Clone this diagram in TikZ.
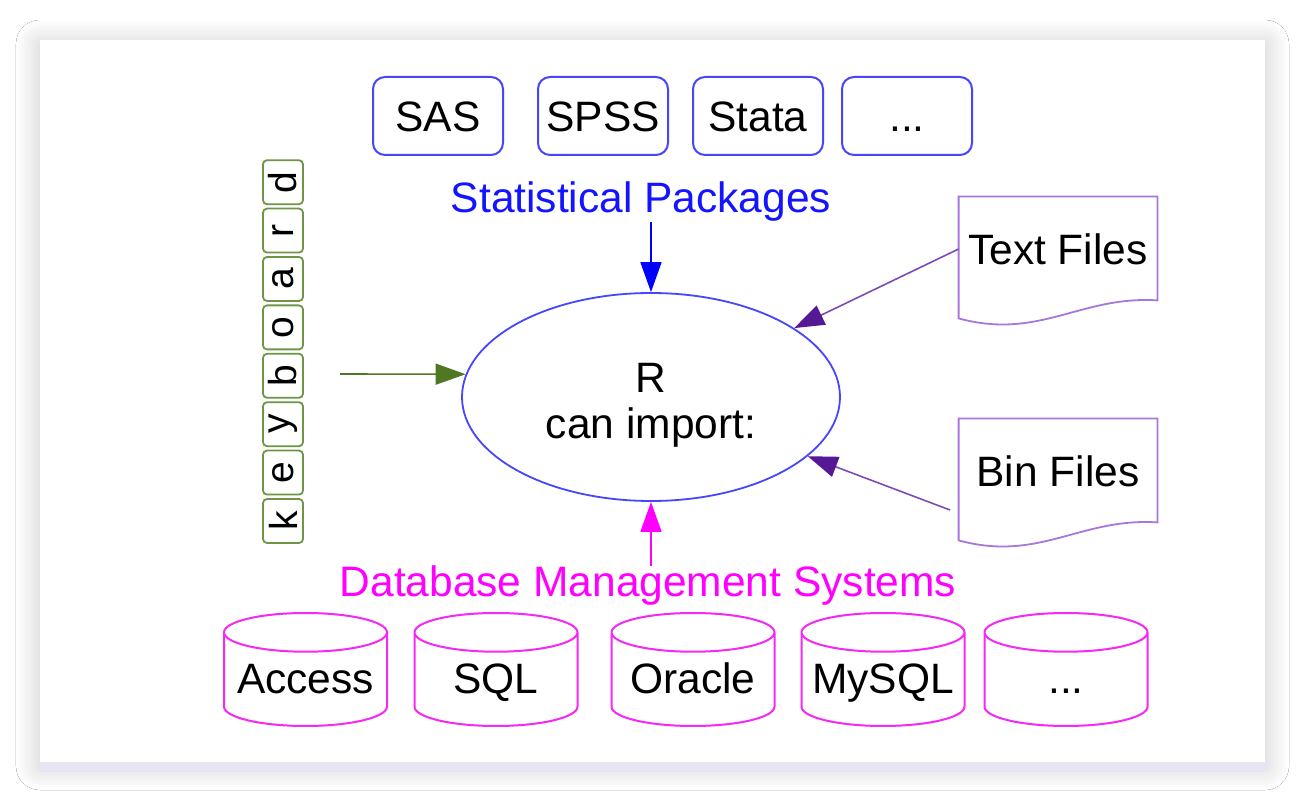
\documentclass[tikz,border=0pt]{standalone}
\usepackage{fontspec}
\setmainfont{Liberation Sans}
\usepackage{tikz}
\usetikzlibrary{arrows.meta, positioning, shapes.geometric, calc, shadows.blur}

\definecolor{pkgblue}{RGB}{70,70,250}
\definecolor{statblue}{RGB}{20,20,255}
\definecolor{dbpink}{RGB}{245,40,245}
\definecolor{dbtext}{RGB}{255,0,255}
\definecolor{filelilac}{RGB}{165,120,220}
\definecolor{fileline}{RGB}{125,75,180}
\definecolor{filehead}{RGB}{85,25,150}
\definecolor{keygreen}{RGB}{110,150,70}
\definecolor{arrowgreen}{RGB}{80,120,35}
\definecolor{cardlilac}{RGB}{232,228,242}

\newcommand{\bigtext}{\fontsize{21.25pt}{23pt}\selectfont}
\newcommand{\dbname}[1]{\makebox[40pt]{#1}}

\begin{document}
\begin{tikzpicture}[x=0.5pt, y=-0.5pt,
  font=\bigtext,
  pkgbox/.style={rectangle, rounded corners=6pt, draw=pkgblue, line width=1pt,
    minimum width=65pt, minimum height=39pt, text height=15.5pt, text depth=0pt},
  dbbox/.style={cylinder, shape border rotate=90, aspect=0.44, draw=dbpink,
    line width=1pt, fill=white, minimum width=81.5pt, minimum height=56.5pt,
    inner sep=2pt, text height=15.5pt, text depth=4.5pt, anchor=shape center},
  filebox/.style={rectangle, minimum width=99pt, minimum height=52pt},
  keybox/.style={rectangle, rounded corners=2pt, draw=keygreen, line width=0.9pt,
    minimum width=22pt, minimum height=20pt, inner sep=0pt,
    font=\fontsize{19.5pt}{20pt}\selectfont},
  feed/.style={-{Triangle[length=15pt,width=10.5pt]}, line width=0.8pt},
  filefeed/.style={feed, fileline, -{Triangle[length=15pt,width=10.5pt,color=filehead]}}
]
\useasboundingbox (0,0) rectangle (1308,812);
\fill[white] (0,0) rectangle (1308,812);
% card
\fill[white, blur shadow={shadow blur steps=10, shadow xshift=0pt, shadow yshift=-2pt,
  shadow blur radius=12pt, shadow opacity=22}] (40,40) rectangle (1265,762);
\fill[cardlilac] (40,762) rectangle (1268,772);

% statistical packages
\node[pkgbox] (sas) at (438,116) {SAS};
\node[pkgbox, right=16.5pt of sas] (spss) {SPSS};
\node[pkgbox, right=11.5pt of spss] (stata) {Stata};
\node[pkgbox, right=8.5pt of stata] (morepkg) {...};
\node[text=statblue, inner sep=0pt] (stats) at (641,202) {Statistical Packages};

% R
\node[ellipse, draw=pkgblue, line width=0.9pt, minimum width=189pt, minimum height=104pt,
  align=center, text height=45.5pt] (R) at (651,397) {R\\can import:};

% keyboard
\begin{scope}[shift={(283,521)}, rotate=90, transform shape]
  \foreach \ch [count=\i] in {k,e,y,b,o,a,r,d}
    \node[keybox] (key\i) at ({(\i-1)*48.4},0) {\ch};
\end{scope}

% files
\node[filebox] (txt) at (1058,249) {Text Files};
\node[filebox] (bin) at (1058,471) {Bin Files};
\foreach \f in {txt,bin}
  \draw[filelilac, line width=0.9pt] (\f.north west) -- (\f.north east)
    -- ([yshift=0.5pt]\f.south east)
    .. controls ($(\f.south east)+(-38.5pt,3pt)$) and ($(\f.south west)+(40.5pt,-19.5pt)$)
    .. ([yshift=-8.5pt]\f.south west) -- cycle;

% databases
\node[text=dbtext, inner sep=0pt] (dbms) at (648,586) {Database Management Systems};
\node[dbbox] (access) at (305.5,669.5) {\dbname{Access}};
\node[dbbox] (sql) at (496,669.5) {\dbname{SQL}};
\node[dbbox] (oracle) at (693,669.5) {\dbname{Oracle}};
\node[dbbox] (mysql) at (883,669.5) {\dbname{MySQL}};
\node[dbbox] (moredb) at (1066,669.5) {\dbname{...}};

% connectors
\coordinate (kbin) at (340,374);
\coordinate (binin) at (950,510);
\draw[feed, arrowgreen] (kbin) -- (R.173);
\draw[feed, blue] (R |- stats.south) -- (R.north);
\draw[feed, dbtext] (R |- dbms.north) -- (R.south);
\draw[filefeed] (txt.west) -- (R);
\draw[filefeed] (binin) -- (R);
\end{tikzpicture}
\end{document}
